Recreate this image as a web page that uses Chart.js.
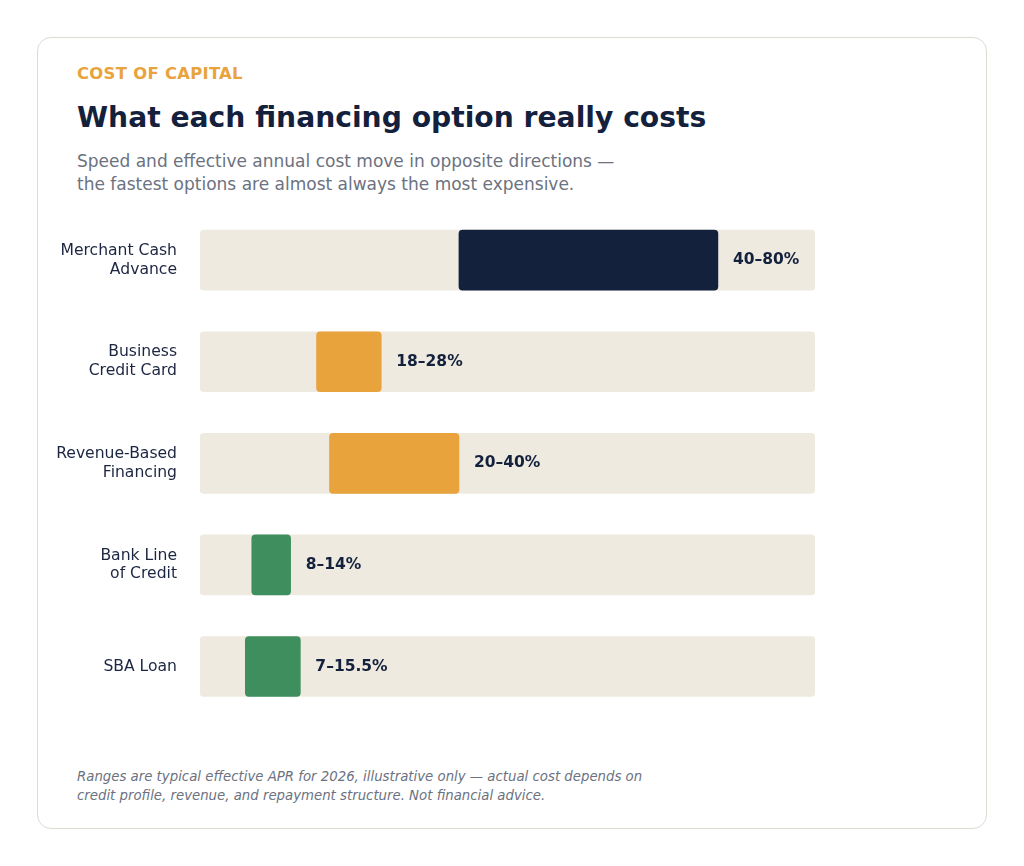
<!DOCTYPE html>
<html><head><meta charset="utf-8">
<script src="https://cdn.jsdelivr.net/npm/chart.js@4"></script>
<style>
body{margin:0;background:#fff;font-family:"DejaVu Sans",sans-serif;}
.card{position:absolute;left:37px;top:37px;width:948px;height:790px;border:1.5px solid #dedbd0;border-radius:14px;}
.t{position:absolute;left:77px;white-space:nowrap;}
#wrap{position:absolute;left:40px;top:185px;width:775px;height:566px;}
</style></head><body>
<div class="card"></div>
<div class="t" style="top:64px;font-size:16.4px;font-weight:bold;color:#e8a33d;letter-spacing:0.3px">COST OF CAPITAL</div>
<div class="t" style="top:101px;font-size:28.2px;font-weight:bold;color:#14213d">What each financing option really costs</div>
<div class="t" style="top:150px;font-size:17px;color:#6b7280;line-height:23px">Speed and effective annual cost move in opposite directions —<br>the fastest options are almost always the most expensive.</div>
<div class="t" style="top:767px;font-size:13.3px;font-style:italic;color:#6b7280;line-height:19px">Ranges are typical effective APR for 2026, illustrative only — actual cost depends on<br>credit profile, revenue, and repayment structure. Not financial advice.</div>
<div id="wrap"><canvas id="c"></canvas></div>
<script>
const categories=[["Merchant Cash","Advance"],["Business","Credit Card"],["Revenue-Based","Financing"],["Bank Line","of Credit"],"SBA Loan"];
const lows=[40,18,20,8,7];
const highs=[80,28,40,14,15.5];
const valueLabels=["40–80%","18–28%","20–40%","8–14%","7–15.5%"];
const colors=["#14213d","#e8a33d","#e8a33d","#3f8f5e","#3f8f5e"];
const trackMax=95;
const labelPlugin={id:'vl',afterDatasetsDraw(ch){
 const ctx=ch.ctx;const meta=ch.getDatasetMeta(1);
 ctx.save();ctx.font='bold 15.5px "DejaVu Sans"';ctx.fillStyle='#14213d';ctx.textBaseline='middle';
 meta.data.forEach((b,i)=>{ctx.fillText(valueLabels[i],b.x+15,b.y);});ctx.restore();}};
new Chart(document.getElementById('c'),{type:'bar',
data:{labels:categories,datasets:[
 {data:categories.map(()=>[0,trackMax]),backgroundColor:'#eeeae0',borderRadius:4,borderSkipped:false,barThickness:60,order:2},
 {data:lows.map((l,i)=>[l,highs[i]]),backgroundColor:colors,borderRadius:4,borderSkipped:false,barThickness:60,order:1}]},
options:{indexAxis:'y',responsive:true,maintainAspectRatio:false,animation:false,
 layout:{padding:0},
 plugins:{legend:{display:false},tooltip:{enabled:false}},
 datasets:{bar:{grouped:false}},
 scales:{x:{display:false,min:0,max:trackMax},
  y:{grid:{display:false},border:{display:false},afterFit(s){s.width=160;},
   ticks:{padding:15,color:'#1c2541',font:{size:15.6,family:'DejaVu Sans'}}}}},
plugins:[labelPlugin]});
</script></body></html>
